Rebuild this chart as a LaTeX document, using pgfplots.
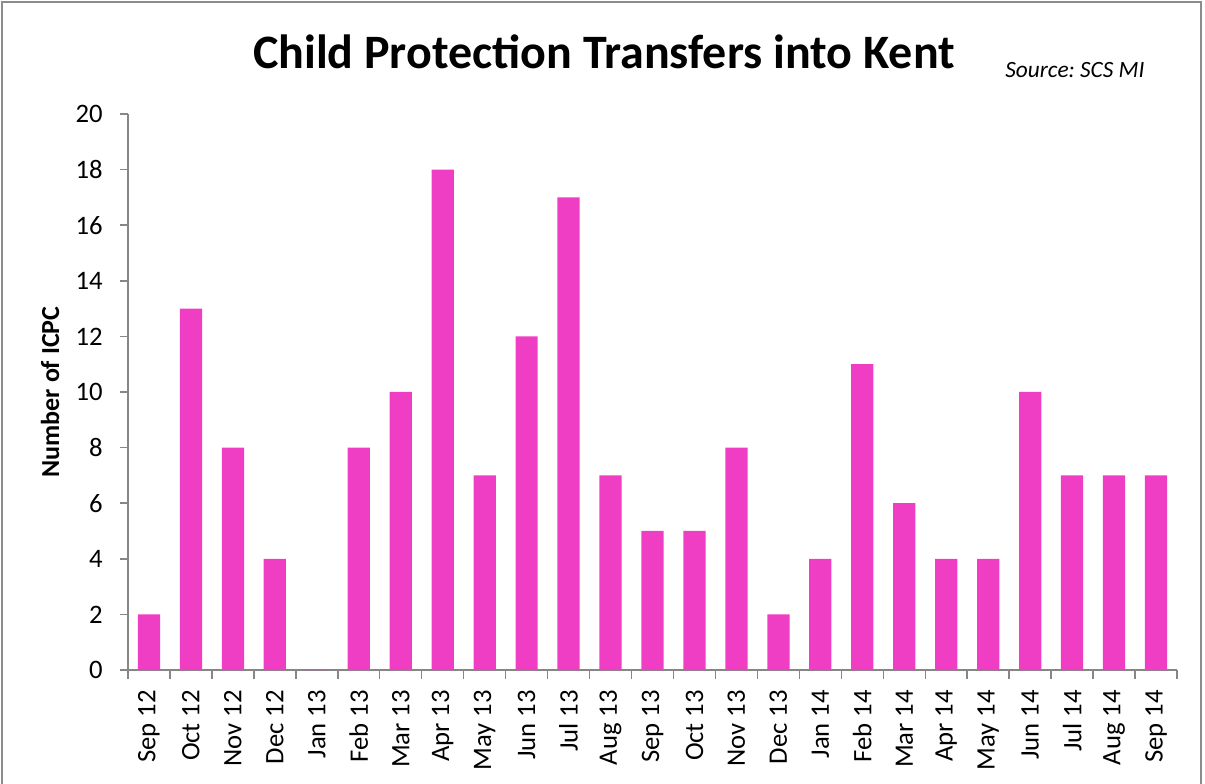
\documentclass[border=0pt]{standalone}
\usepackage{pgfplots}
\pgfplotsset{compat=1.18}
\usepackage{fontspec}
\setmainfont{Carlito}
\frenchspacing
\definecolor{barpink}{RGB}{240,62,196}
\definecolor{axgray}{RGB}{134,134,134}
\definecolor{bordergray}{RGB}{140,140,140}
\begin{document}
\begin{tikzpicture}
\path[use as bounding box] (-96pt,-85.5pt) rectangle (807.75pt,502.5pt);
\begin{axis}[
  at={(0,0)}, anchor=south west,
  scale only axis,
  width=786.75pt, height=417pt,
  ybar, bar width=0.53,
  bar shift=0pt,
  xmin=-0.5, xmax=24.5,
  ymin=0, ymax=20,
  ytick={0,2,...,20},
  xtick={0,...,24},
  xticklabels={Sep 12,Oct 12,Nov 12,Dec 12,Jan 13,Feb 13,Mar 13,Apr 13,May 13,Jun 13,Jul 13,Aug 13,Sep 13,Oct 13,Nov 13,Dec 13,Jan 14,Feb 14,Mar 14,Apr 14,May 14,Jun 14,Jul 14,Aug 14,Sep 14},
  minor xtick={-0.5,0.5,...,24.5},
  axis x line*=bottom, axis y line*=left,
  axis line style={axgray, line width=1.1pt},
  tick align=outside,
  major tick length=6pt, minor tick length=6.5pt,
  major x tick style={draw=none},
  minor x tick style={axgray, line width=1.1pt},
  major y tick style={axgray, line width=1.1pt},
  /pgf/number format/assume math mode=true,
  ticklabel style={font=\fontsize{20pt}{24pt}\selectfont},
  xticklabel style={rotate=90, anchor=east, yshift=0pt, xshift=-5.5pt},
  yticklabel style={xshift=-9.5pt},
  axis on top=false,
]
\addplot[fill=barpink, draw=none] coordinates {
(0,2) (1,13) (2,8) (3,4) (4,0) (5,8) (6,10) (7,18) (8,7) (9,12) (10,17) (11,7) (12,5) (13,5) (14,8) (15,2) (16,4) (17,11) (18,6) (19,4) (20,4) (21,10) (22,7) (23,7) (24,7)
};
\end{axis}
\node[font=\fontsize{36pt}{42pt}\selectfont\bfseries] at (357pt,463.5pt) {Child Protection Transfers into Kent};
\node[font=\fontsize{17.5pt}{21pt}\selectfont\itshape] at (710.25pt,450pt) {Source: SCS MI};
\node[font=\fontsize{19.5pt}{23pt}\selectfont\bfseries, rotate=90] at (-58.5pt,208.5pt) {Number of ICPC};
\draw[bordergray, line width=1.5pt] (-94.5pt,-95pt) -- (-94.5pt,501pt) -- (804.75pt,501pt) -- (804.75pt,-95pt);
\end{tikzpicture}
\end{document}
